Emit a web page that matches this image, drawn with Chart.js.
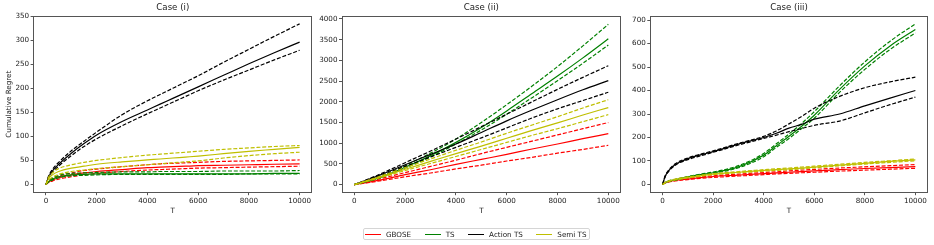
<!DOCTYPE html>
<html>
<head>
<meta charset="utf-8">
<script src="https://cdn.jsdelivr.net/npm/chart.js@4.4.1/dist/chart.umd.min.js"></script>
<style>
  body { margin: 0; width: 934px; height: 245px; background: #fff; overflow: hidden; position: relative; font-family: "DejaVu Sans", sans-serif; }
  canvas { position: absolute; top: 0; }
  #legend { position: absolute; left: 363px; top: 228px; width: 225px; height: 10px; border: 1px solid #d5d5d5; border-radius: 2px; display: flex; align-items: center; font-size: 7.2px; color: #1a1a1a; }
  #legend .item { display: flex; align-items: center; margin-left: 1px; margin-right: 12.5px; white-space: nowrap; }
  #legend .swatch { width: 16px; height: 0; border-top: 1.3px solid; margin-right: 5px; }
</style>
</head>
<body>
<canvas id="c1" width="322" height="218" style="left:0px"></canvas>
<canvas id="c2" width="318" height="218" style="left:314px"></canvas>
<canvas id="c3" width="310" height="218" style="left:624px"></canvas>
<div id="legend"></div>
<script>
// x positions (T) and tick labels
const tFine = [0, 100, 250, 500, 1000, 1500, 2000, 3000, 4000, 4500, 5000, 5500, 6000, 7000, 8000, 9000, 10000];
const tCoarse = [0, 1000, 2000, 3000, 4000, 5000, 6000, 7000, 8000, 9000, 10000];
const xTicks = [0, 2000, 4000, 6000, 8000, 10000];
const yTicks1 = [0, 50, 100, 150, 200, 250, 300, 350];
const yTicks2 = [0, 500, 1000, 1500, 2000, 2500, 3000, 3500, 4000];
const yTicks3 = [0, 100, 200, 300, 400, 500, 600, 700];

const labels = ["GBOSE", "TS", "Action TS", "Semi TS"];
const colors = ["#ff0000", "#008000", "#000000", "#bfbf00"];

// Case (i)  -- mean / upper / lower
const i_gbose    = [0, 5, 9, 14, 20, 24, 27, 31, 35, 36, 37, 38, 39, 40, 41, 42, 43];
const i_gbose_hi = [0, 7, 12, 17, 24, 29, 32, 37, 41, 43, 44, 45, 46, 48, 49, 50, 51];
const i_gbose_lo = [0, 4, 7, 11, 16, 20, 23, 27, 30, 31, 32, 33, 34, 35, 36, 37, 38];
const i_ts       = [0, 6, 11, 16, 20, 21, 22, 22, 22, 22, 22, 22, 22, 22, 22, 23, 23];
const i_ts_hi    = [0, 8, 13, 19, 23, 24, 25, 26, 26, 27, 27, 27, 27, 28, 28, 28, 29];
const i_ts_lo    = [0, 5, 9, 14, 18, 19, 20, 21, 21, 21, 21, 21, 21, 21, 22, 22, 22];
const i_ats      = [0, 15, 28, 42, 65, 85, 103, 131, 155, 167, 179, 191, 203, 227, 251, 274, 296];
const i_ats_hi   = [0, 17, 31, 46, 70, 90, 109, 145, 174, 187, 200, 213, 226, 254, 281, 308, 334];
const i_ats_lo   = [0, 13, 25, 38, 60, 79, 95, 122, 147, 159, 171, 183, 195, 217, 238, 259, 279];
const i_sts      = [0, 12, 20, 27, 34, 38, 42, 47, 51, 53, 55, 57, 59, 64, 69, 73, 77];
const i_sts_hi   = [0, 15, 24, 33, 41, 46, 50, 56, 61, 63, 65, 67, 69, 73, 76, 79, 81];
const i_sts_lo   = [0, 9, 15, 21, 27, 30, 33, 37, 41, 43, 45, 47, 49, 55, 60, 64, 67];

// Case (ii)
const ii_gbose    = [0, 110, 240, 360, 490, 610, 730, 860, 980, 1110, 1230];
const ii_gbose_hi = [0, 140, 290, 440, 590, 750, 900, 1050, 1200, 1350, 1500];
const ii_gbose_lo = [0, 90, 190, 280, 380, 470, 570, 660, 760, 850, 950];
const ii_ts       = [0, 170, 420, 700, 1020, 1380, 1780, 2200, 2620, 3060, 3520];
const ii_ts_hi    = [0, 190, 460, 760, 1100, 1500, 1930, 2380, 2850, 3350, 3870];
const ii_ts_lo    = [0, 160, 400, 670, 980, 1320, 1700, 2100, 2510, 2930, 3370];
const ii_ats      = [0, 230, 480, 730, 980, 1260, 1540, 1800, 2050, 2290, 2510];
const ii_ats_hi   = [0, 250, 530, 810, 1100, 1400, 1700, 2000, 2300, 2590, 2870];
const ii_ats_lo   = [0, 210, 440, 670, 900, 1130, 1370, 1610, 1830, 2030, 2230];
const ii_sts      = [0, 180, 370, 560, 750, 930, 1120, 1310, 1490, 1680, 1860];
const ii_sts_hi   = [0, 200, 410, 620, 830, 1030, 1240, 1440, 1640, 1850, 2050];
const ii_sts_lo   = [0, 165, 340, 510, 680, 850, 1020, 1190, 1350, 1520, 1690];

// Case (iii)
const iii_gbose    = [0, 7, 12, 17, 23, 29, 34, 40, 46, 49, 52, 55, 58, 63, 68, 72, 76];
const iii_gbose_hi = [0, 8, 13, 19, 26, 32, 37, 44, 51, 54, 58, 61, 64, 70, 75, 80, 85];
const iii_gbose_lo = [0, 6, 11, 15, 21, 26, 30, 36, 42, 45, 47, 50, 52, 57, 61, 65, 69];
const iii_ts       = [0, 8, 14, 20, 32, 42, 50, 75, 125, 165, 205, 248, 295, 405, 505, 590, 660];
const iii_ts_hi    = [0, 9, 16, 22, 34, 44, 53, 80, 132, 173, 215, 260, 310, 420, 522, 610, 684];
const iii_ts_lo    = [0, 7, 13, 18, 30, 40, 48, 71, 118, 158, 196, 238, 282, 392, 490, 575, 645];
const iii_ats      = [0, 35, 60, 85, 110, 126, 140, 172, 200, 218, 240, 256, 278, 300, 335, 368, 400];
const iii_ats_hi   = [0, 37, 63, 88, 113, 129, 143, 175, 205, 228, 258, 290, 325, 375, 412, 437, 457];
const iii_ats_lo   = [0, 33, 57, 82, 106, 122, 137, 168, 196, 210, 225, 238, 252, 270, 305, 340, 372];
const iii_sts      = [0, 8, 14, 21, 30, 37, 44, 52, 60, 63, 66, 70, 74, 82, 90, 98, 105];
const iii_sts_hi   = [0, 9, 15, 23, 32, 39, 46, 55, 63, 67, 70, 74, 78, 86, 94, 101, 108];
const iii_sts_lo   = [0, 7, 13, 19, 28, 35, 42, 50, 57, 60, 63, 67, 71, 79, 87, 94, 101];

const FONT = "DejaVu Sans";
const TEXT = "#1a1a1a";
const SPINE = "#555";

// box around the plot area, like matplotlib spines
const framePlugin = {
  id: "frame",
  afterDatasetsDraw(chart) {
    const a = chart.chartArea, ctx = chart.ctx;
    ctx.save();
    ctx.strokeStyle = SPINE;
    ctx.lineWidth = 1;
    const l = Math.round(a.left) + 0.5, t = Math.round(a.top) + 0.5;
    const r = Math.round(a.right) - 0.5, b = Math.round(a.bottom) - 0.5;
    ctx.strokeRect(l, t, r - l, b - t);
    ctx.restore();
  }
};

function toPts(T, ys) {
  return T.map((t, i) => ({ x: t, y: ys[i] }));
}

function makePanel(id, title, T, groups, yMin, yMax, yTicks, yW, padRight, yLabel) {
  let datasets = [];
  groups.forEach((g, k) => {
    const base = { borderColor: colors[k], backgroundColor: colors[k], pointRadius: 0, fill: false,
                   cubicInterpolationMode: "monotone", borderWidth: 1.2 };
    datasets.push(Object.assign({}, base, { label: labels[k], data: toPts(T, g[0]) }));
    datasets.push(Object.assign({}, base, { label: labels[k] + " hi", data: toPts(T, g[1]), borderDash: [4, 1.8] }));
    datasets.push(Object.assign({}, base, { label: labels[k] + " lo", data: toPts(T, g[2]), borderDash: [4, 1.8] }));
  });
  datasets = datasets.reverse(); // later series drawn on top

  const tickFont = { family: FONT, size: 7.2 };
  return new Chart(document.getElementById(id), {
    type: "line",
    data: { datasets },
    plugins: [framePlugin],
    options: {
      responsive: false,
      animation: false,
      devicePixelRatio: 1,
      layout: { padding: { left: 0, right: padRight, top: 0, bottom: 0 } },
      plugins: {
        legend: { display: false },
        tooltip: { enabled: false },
        title: {
          display: true, text: title, color: TEXT, fullSize: false,
          font: { family: FONT, size: 8.6, weight: "normal" },
          padding: { top: 3, bottom: 2.5 }
        }
      },
      scales: {
        x: {
          type: "linear", min: -500, max: 10500,
          afterBuildTicks: s => { s.ticks = xTicks.map(v => ({ value: v })); },
          afterFit: s => { s.height = 25.5; s.paddingLeft = 0; s.paddingRight = 0; },
          ticks: { color: TEXT, font: tickFont, padding: 1.5, maxRotation: 0, autoSkip: false, callback: v => String(v) },
          grid: { display: true, drawOnChartArea: false, drawTicks: true, tickLength: 2.7, tickColor: SPINE, tickWidth: 1 },
          border: { display: false },
          title: { display: true, text: "T", color: TEXT, font: tickFont, padding: { top: 0, bottom: 3 } }
        },
        y: {
          type: "linear", min: yMin, max: yMax,
          afterBuildTicks: s => { s.ticks = yTicks.map(v => ({ value: v })); },
          afterFit: s => { s.width = yW; s.paddingTop = 0; s.paddingBottom = 0; },
          ticks: { color: TEXT, font: tickFont, padding: 1.5, autoSkip: false, callback: v => String(v) },
          grid: { display: true, drawOnChartArea: false, drawTicks: true, tickLength: 2.7, tickColor: SPINE, tickWidth: 1 },
          border: { display: false },
          title: { display: !!yLabel, text: yLabel || "", color: TEXT, font: tickFont, padding: { top: 5, bottom: 0 } }
        }
      }
    }
  });
}

makePanel("c1", "Case (i)", tFine, [
  [i_gbose, i_gbose_hi, i_gbose_lo],
  [i_ts, i_ts_hi, i_ts_lo],
  [i_ats, i_ats_hi, i_ats_lo],
  [i_sts, i_sts_hi, i_sts_lo]
], -16.7, 350.7, yTicks1, 33.3, 9.7, "Cumulative Regret");

makePanel("c2", "Case (ii)", tCoarse, [
  [ii_gbose, ii_gbose_hi, ii_gbose_lo],
  [ii_ts, ii_ts_hi, ii_ts_lo],
  [ii_ats, ii_ats_hi, ii_ats_lo],
  [ii_sts, ii_sts_hi, ii_sts_lo]
], -190, 4075, yTicks2, 27.7, 11, null);

makePanel("c3", "Case (iii)", tFine, [
  [iii_gbose, iii_gbose_hi, iii_gbose_lo],
  [iii_ts, iii_ts_hi, iii_ts_lo],
  [iii_ats, iii_ats_hi, iii_ats_lo],
  [iii_sts, iii_sts_hi, iii_sts_lo]
], -34.2, 718.2, yTicks3, 26, 6, null);

// shared legend under the panels
const legend = document.getElementById("legend");
labels.forEach((name, k) => {
  const item = document.createElement("div");
  item.className = "item";
  const sw = document.createElement("span");
  sw.className = "swatch";
  sw.style.borderTopColor = colors[k];
  const txt = document.createElement("span");
  txt.textContent = name;
  item.appendChild(sw);
  item.appendChild(txt);
  legend.appendChild(item);
});
</script>
</body>
</html>
